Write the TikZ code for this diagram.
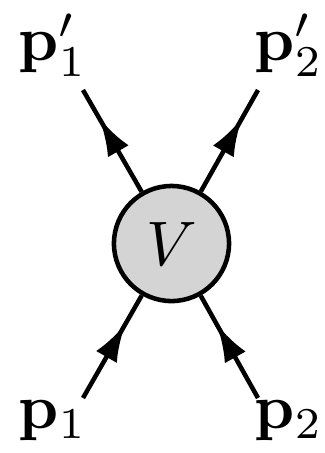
\documentclass[tikz,border=0pt]{standalone}
\usepackage{amsmath,amssymb}
\usepackage{tikz}
\usetikzlibrary{arrows.meta,decorations.markings}

\begin{document}
\begin{tikzpicture}[x=0.159pt,y=-0.159pt,
    leg/.style={line width=0.72pt,postaction={decorate},
      decoration={markings,mark=at position 0.72 with {\arrow{Latex[length=6pt,width=3.8pt]}}}},
    vertex/.style={circle,draw=black,line width=0.72pt,fill=black!17,minimum size=18.3pt,inner sep=0pt}]
  \useasboundingbox (0,0) rectangle (325,453);
  % vertex
  \node[vertex] (V) at (171.5,243.5) {$V$};
  \coordinate (in1) at (83,398);
  \coordinate (in2) at (258,398);
  \coordinate (out1) at (83,90);
  \coordinate (out2) at (258,90);
  % legs
  \draw[leg] (in1) -- (V);
  \draw[leg] (in2) -- (V);
  \draw[leg] (V) -- (out1);
  \draw[leg] (V) -- (out2);
  % momenta
  \node (p1) at (53,421) {$\mathbf{p}_1$};
  \node (p2) at (289,421) {$\mathbf{p}_2$};
  \node (q1) at (53,45) {$\mathbf{p}_1'$};
  \node (q2) at (289,45) {$\mathbf{p}_2'$};
\end{tikzpicture}
\end{document}
